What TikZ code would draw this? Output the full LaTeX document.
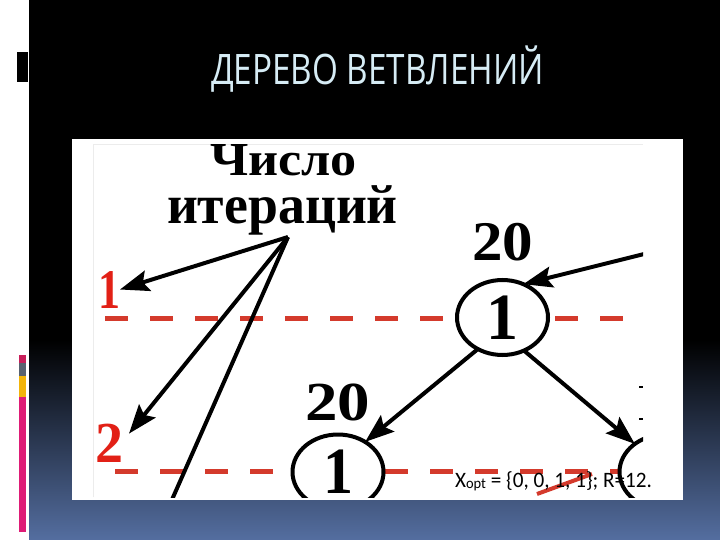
\documentclass[tikz,border=0pt]{standalone}
\usepackage{fontspec}
\usepackage{graphicx}
\setmainfont{Liberation Serif}
\newfontfamily\titlefont{Open Sans}
\newfontfamily\notefont{Carlito}
\usetikzlibrary{shapes.geometric,arrows.meta}
\definecolor{titlecol}{RGB}{214,236,245}
\definecolor{bgblue}{RGB}{84,110,160}
\definecolor{dashred}{RGB}{212,58,44}
\definecolor{labred}{RGB}{226,32,22}
\definecolor{barpink}{RGB}{222,28,118}
\definecolor{bardark}{RGB}{200,30,90}
\definecolor{bargray}{RGB}{88,98,112}
\definecolor{baryellow}{RGB}{242,180,10}
\definecolor{faint}{RGB}{236,236,236}
\tikzset{
  vert/.style={ellipse, draw, line width=4pt, fill=white, minimum width=91pt,
    minimum height=75pt, inner sep=0pt, outer sep=0pt},
  arr/.style={draw=black, line width=4pt,
    -{Stealth[length=29pt,width=21pt,inset=5pt]}},
  plainline/.style={draw=black, line width=4pt},
  reddash/.style={draw=dashred, line width=5pt, dash pattern=on 23pt off 22pt},
  redstroke/.style={draw=dashred, line width=4pt},
  lab/.style={inner sep=0pt, outer sep=0pt, anchor=base west},
}
\begin{document}
\begin{tikzpicture}[x=1pt,y=-1pt]
\useasboundingbox (0,0) rectangle (720,540);
% background
\fill[white] (0,0) rectangle (720,540);
\fill[black] (29,0) rectangle (720,341);
\shade[top color=black, bottom color=bgblue] (29,340) rectangle (720,540);
% left strip marks
\fill[black] (17,52) rectangle (28,82);
\fill[bardark] (19,355) rectangle (26,363);
\fill[bargray] (19,363) rectangle (26,376);
\fill[baryellow] (19,376) rectangle (26,397);
\fill[barpink] (19,397) rectangle (26,532);
% title
\node[lab, text=titlecol] (title) at (211,85)
  {\resizebox{333pt}{\height}{\titlefont\fontsize{42pt}{42pt}\selectfont ДЕРЕВО ВЕТВЛЕНИЙ}};
% white panel
\fill[white] (72,139) rectangle (683,500);
\draw[faint, line width=1pt] (93,497) -- (93,145) -- (643,145);
\begin{scope}
\clip (93,144) rectangle (643,497);
% dashed red levels
\coordinate (tl) at (105,318);
\coordinate (tr) at (630,318);
\coordinate (bl) at (115,471);
\coordinate (br) at (643,471);
\draw[reddash] (tl) -- (tr);
\draw[reddash] (bl) -- (br);
% red stroke
\coordinate (s1) at (537,494);
\coordinate (s2) at (592,474);
\draw[redstroke] (s1) -- (s2);
% texts
\node[lab] (t1) at (210,176)
  {\resizebox{147pt}{31pt}{\fontsize{44pt}{44pt}\selectfont\bfseries Число}};
\node[lab] (t2) at (167,223)
  {\resizebox{231pt}{\height}{\fontsize{55pt}{55pt}\selectfont\bfseries итераций}};
\node[lab, text=labred] (r1) at (98,308)
  {\resizebox{22pt}{\height}{\fontsize{56pt}{56pt}\selectfont\bfseries 1}};
\node[lab, text=labred] (r2) at (95,462)
  {\resizebox{28pt}{\height}{\fontsize{58pt}{58pt}\selectfont\bfseries 2}};
\node[lab] (n1) at (472,260)
  {\resizebox{61pt}{\height}{\fontsize{56pt}{56pt}\selectfont\bfseries 20}};
\node[lab] (n2) at (305,420)
  {\resizebox{65pt}{\height}{\fontsize{55pt}{55pt}\selectfont\bfseries 20}};
% vertices
\node[vert] (c1) at (502.5,317.5)
  {\resizebox{32pt}{\height}{\fontsize{66pt}{66pt}\selectfont\bfseries 1}};
\node[vert] (c2) at (338,472)
  {\resizebox{30pt}{\height}{\fontsize{66pt}{66pt}\selectfont\bfseries 1}};
\node[vert] (c3) at (665,472) {};
% arrows
\coordinate (apex) at (288,237);
\coordinate (down) at (163,520);
\coordinate (inR) at (660,250);
\draw[arr] (apex) -- (r1.east);
\draw[arr] (apex) -- ([xshift=6pt,yshift=-10pt]r2.north east);
\draw[plainline] (apex) -- (down);
\draw[arr] (inR) -- (c1.58);
\draw[arr] (c1.232) -- (c2.48);
\draw[arr] (c1.303) -- (c3.137);
% small cropped marks
\coordinate (m1a) at (639,387); \coordinate (m1b) at (643,387);
\coordinate (m2a) at (639,419); \coordinate (m2b) at (643,419);
\draw[line width=1.5pt] (m1a) -- (m1b);
\draw[line width=1.5pt] (m2a) -- (m2b);
\end{scope}
% result text
\node[lab] (xopt) at (455,487)
  {\resizebox{197pt}{\height}{\notefont\fontsize{22pt}{22pt}\selectfont X\raisebox{-1.5pt}{\fontsize{15pt}{15pt}\selectfont opt} = \{0, 0, 1, 1\};\ R=12.}};
\end{tikzpicture}
\end{document}
